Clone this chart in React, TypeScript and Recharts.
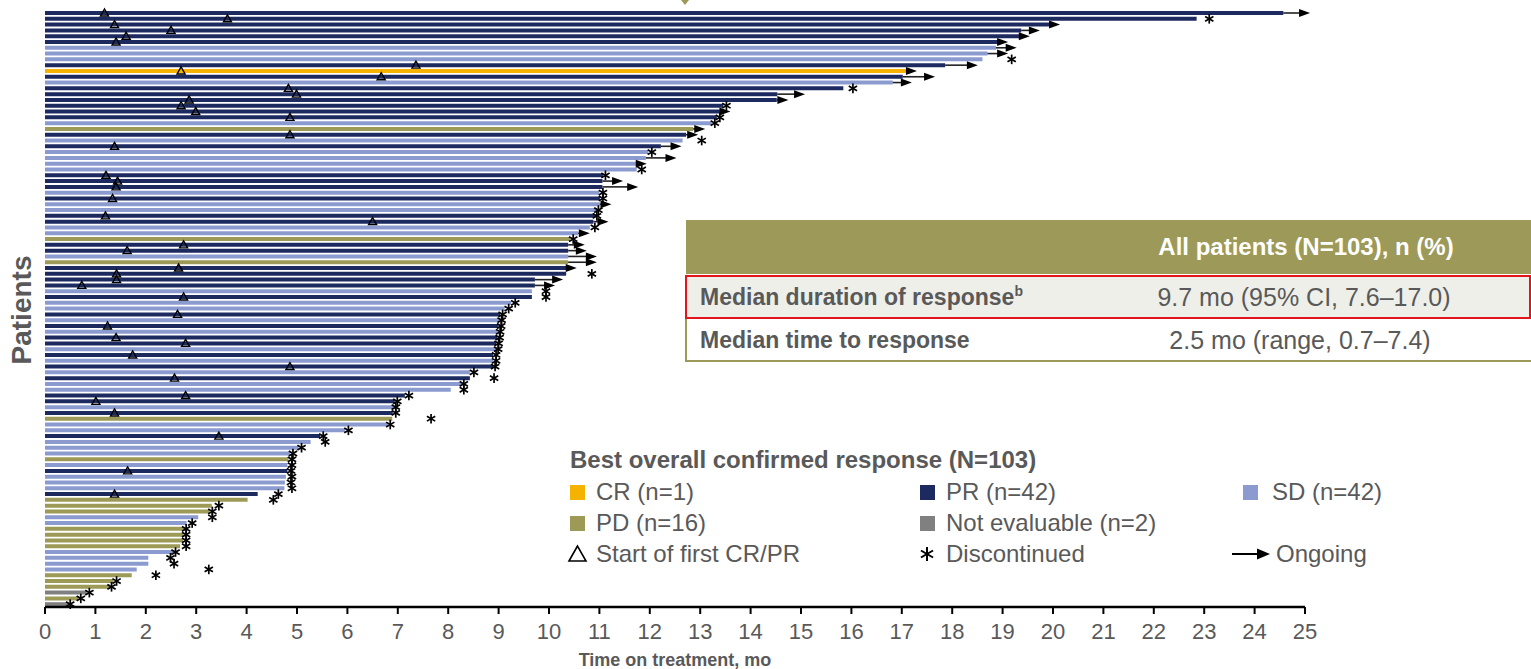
import React from 'react';
import { BarChart, Bar, XAxis, YAxis, Cell, LabelList } from 'recharts';

const FONT = '"Liberation Sans", Arial, Helvetica, sans-serif';
const TEXT_GRAY = '#595959';

// Best overall confirmed response per patient (top to bottom)
const responses: string[] = [
  'PR', 'PR', 'PR', 'PR', 'PR', 'PR', 'SD', 'SD', 'SD', 'PR',
  'CR', 'PR', 'SD', 'PR', 'PR', 'PR', 'PR', 'PR', 'PR', 'SD',
  'PD', 'PR', 'SD', 'PR', 'SD', 'SD', 'SD', 'SD', 'PR', 'PR',
  'PR', 'SD', 'PR', 'SD', 'SD', 'PR', 'PR', 'SD', 'SD', 'PD',
  'PR', 'PR', 'SD', 'PD', 'PR', 'PR', 'PR', 'PR', 'SD', 'PR',
  'SD', 'SD', 'PR', 'SD', 'PR', 'SD', 'PR', 'PR', 'SD', 'PR',
  'SD', 'PR', 'SD', 'PR', 'SD', 'SD', 'PR', 'PR', 'SD', 'PR',
  'PD', 'SD', 'SD', 'PR', 'SD', 'SD', 'SD', 'PD', 'SD', 'PR',
  'SD', 'SD', 'SD', 'PR', 'PD', 'PD', 'PD', 'SD', 'SD', 'PD',
  'PD', 'PD', 'PD', 'SD', 'SD', 'SD', 'SD', 'PD', 'PD', 'PD',
  'NE', 'PD', 'NE',
];

// Time on treatment, months
const durations: number[] = [
  24.57, 22.85, 19.94, 19.37, 19.33, 18.91, 18.87, 18.70, 18.60, 17.86,
  17.08, 17.02, 16.82, 15.84, 14.53, 14.52, 13.46, 13.39, 13.33, 13.23,
  12.86, 12.72, 12.65, 12.22, 11.97, 11.92, 11.77, 11.74, 11.07, 11.06,
  11.06, 11.00, 11.01, 11.01, 10.95, 10.91, 10.88, 10.81, 10.58, 10.42,
  10.38, 10.38, 10.38, 10.38, 10.35, 10.34, 9.72, 9.72, 9.66, 9.66,
  9.25, 9.12, 9.03, 9.02, 9.00, 8.98, 8.97, 8.95, 8.95, 8.89,
  8.89, 8.89, 8.43, 8.43, 8.27, 8.05, 7.14, 6.94, 6.92, 6.90,
  6.89, 6.81, 5.95, 5.46, 5.27, 5.03, 4.86, 4.83, 4.81, 4.81,
  4.78, 4.76, 4.75, 4.22, 4.02, 3.31, 3.27, 3.04, 2.81, 2.76,
  2.75, 2.74, 2.68, 2.55, 2.05, 2.05, 1.82, 1.72, 1.36, 1.29,
  0.83, 0.66, 0.46,
];

// Start of first CR/PR, months
const responseStart: (number | null)[] = [
  1.18, 3.62, 1.38, 2.50, 1.61, 1.41, null, null, null, 7.36,
  2.70, 6.67, null, 4.83, 4.99, 2.86, 2.70, 2.99, 4.86, null,
  null, 4.86, null, 1.38, null, null, null, null, 1.21, 1.44,
  1.41, null, 1.34, null, null, 1.20, 6.50, null, null, null,
  2.75, 1.63, null, null, 2.65, 1.42, 1.42, 0.73, null, 2.75,
  null, null, 2.63, null, 1.24, null, 1.41, 2.79, null, 1.74,
  null, 4.86, null, 2.57, null, null, 2.79, 1.01, null, 1.38,
  null, null, null, 3.45, null, null, null, null, null, 1.64,
  null, null, null, 1.38, null, null, null, null, null, null,
  null, null, null, null, null, null, null, null, null, null,
  null, null, null,
];

// Discontinuation, months
const discontinuedAt: (number | null)[] = [
  null, 23.10, null, null, null, null, null, null, 19.18, null,
  null, null, null, 16.03, null, null, 13.52, null, 13.39, 13.29,
  null, null, 13.03, null, 12.04, null, null, 11.84, 11.12, null,
  null, 11.07, 11.07, null, 10.98, 10.95, null, 10.91, null, 10.48,
  null, null, null, null, null, 10.85, null, null, 9.94, 9.94,
  9.33, 9.20, 9.08, 9.06, 9.05, 9.03, 9.02, 9.00, 8.99, 8.95,
  8.95, 8.93, 8.51, 8.91, 8.31, 8.31, 7.22, 6.99, 6.96, 6.96,
  7.66, 6.85, 6.02, 5.52, 5.56, 5.09, 4.92, 4.90, 4.90, 4.88,
  4.90, 4.88, 4.90, 4.63, 4.53, 3.45, 3.32, 3.32, 2.92, 2.80,
  2.80, 2.80, 2.80, 2.59, 2.49, 2.56, 3.25, 2.20, 1.42, 1.32,
  0.88, 0.71, 0.50,
];

// Ongoing treatment, arrow reaching this month
const ongoingTo: (number | null)[] = [
  25.10, null, 20.14, 19.74, 19.54, 19.11, 19.28, 19.11, null, 18.51,
  17.30, 17.66, 17.20, null, 15.08, 14.75, null, 13.60, null, null,
  13.10, 12.96, null, 12.63, null, 12.53, 11.94, null, null, 11.47,
  11.77, null, null, 11.24, null, null, 11.18, null, 10.81, null,
  10.71, 10.75, 10.95, 10.95, 10.55, null, 10.28, 10.12, null, null,
  null, null, null, null, null, null, null, null, null, null,
  null, null, null, null, null, null, null, null, null, null,
  null, null, null, null, null, null, null, null, null, null,
  null, null, null, null, null, null, null, null, null, null,
  null, null, null, null, null, null, null, null, null, null,
  null, null, null,
];

const xTicks = [0, 1, 2, 3, 4, 5, 6, 7, 8, 9, 10, 11, 12, 13, 14, 15, 16, 17, 18, 19, 20, 21, 22, 23, 24, 25];

const COLORS: Record<string, string> = {
  CR: '#f6b200',
  PR: '#1d2a5f',
  SD: '#8b9bd0',
  PD: '#9c9a56',
  NE: '#808080',
};
const OLIVE = '#9d9958';

const rows = durations.map((d, i) => ({
  id: i,
  duration: d,
  response: responses[i],
  start: responseStart[i],
  disc: discontinuedAt[i],
  ongoing: ongoingTo[i],
}));

const Asterisk = ({ cx, cy, r, w = 1.6 }: { cx: number; cy: number; r: number; w?: number }) => {
  const dx = r * Math.cos(Math.PI / 6);
  const dy = r * Math.sin(Math.PI / 6);
  return (
    <g stroke="#000" strokeWidth={w} strokeLinecap="butt">
      <line x1={cx} y1={cy - r} x2={cx} y2={cy + r} />
      <line x1={cx - dx} y1={cy - dy} x2={cx + dx} y2={cy + dy} />
      <line x1={cx - dx} y1={cy + dy} x2={cx + dx} y2={cy - dy} />
    </g>
  );
};

const renderMarkers = (props: any) => {
  const vb = props.viewBox && props.viewBox.width != null ? props.viewBox : props;
  const { x, y, width, height } = vb;
  const row = rows[Number(props.value)];
  if (!row || width == null || !isFinite(width)) return null;
  const perMonth = width / row.duration;
  const cy = y + height / 2;
  const at = (v: number) => x + v * perMonth;
  const end = x + width;
  return (
    <g key={`m-${row.id}`}>
      {row.start != null && (
        <polygon
          points={`${at(row.start)},${cy - 4} ${at(row.start) - 4},${cy + 3} ${at(row.start) + 4},${cy + 3}`}
          fill="none"
          stroke="#000"
          strokeWidth={1.4}
        />
      )}
      {row.disc != null && <Asterisk cx={at(row.disc)} cy={cy} r={4.8} w={1.7} />}
      {row.ongoing != null && (
        <g>
          {at(row.ongoing) - 10 > end && (
            <line x1={end} y1={cy} x2={at(row.ongoing) - 9} y2={cy} stroke="#222" strokeWidth={1.6} />
          )}
          <polygon
            points={`${at(row.ongoing)},${cy} ${at(row.ongoing) - 11},${cy - 4} ${at(row.ongoing) - 11},${cy + 4}`}
            fill="#000"
          />
        </g>
      )}
    </g>
  );
};

const LegendSwatch = ({ left, top, color, label, textLeft }: any) => (
  <>
    <div style={{ position: 'absolute', left, top: top - 7.5, width: 15, height: 15, background: color }} />
    <div style={{ position: 'absolute', left: textLeft, top: top - 14, height: 28, lineHeight: '28px', fontSize: 24, color: TEXT_GRAY, whiteSpace: 'nowrap' }}>
      {label}
    </div>
  </>
);

export default function App() {
  return (
    <div style={{ position: 'absolute', left: 0, top: 0, width: 1531, height: 669, background: '#fff', fontFamily: FONT, overflow: 'hidden' }}>
      <BarChart
        width={1531}
        height={669}
        data={rows}
        layout="vertical"
        margin={{ top: 10, right: 226, bottom: 32, left: 45 }}
        barSize={4}
      >
        <XAxis
          type="number"
          domain={[0, 25]}
          ticks={xTicks}
          interval={0}
          height={30}
          axisLine={{ stroke: '#000', strokeWidth: 2.5 }}
          tickLine={{ stroke: '#000', strokeWidth: 2 }}
          tickSize={7}
          tickMargin={9}
          tick={{ fill: TEXT_GRAY, fontSize: 22, fontFamily: FONT }}
        />
        <YAxis
          type="category"
          dataKey="id"
          width={0}
          tick={false}
          tickLine={false}
          axisLine={{ stroke: '#000', strokeWidth: 2.5 }}
        />
        <Bar dataKey="duration" isAnimationActive={false}>
          {rows.map((r) => (
            <Cell key={r.id} fill={COLORS[r.response]} />
          ))}
          <LabelList dataKey="id" content={renderMarkers} />
        </Bar>
      </BarChart>

      {/* small olive mark at the top edge */}
      <svg style={{ position: 'absolute', left: 680, top: 0 }} width={10} height={6}>
        <polygon points="1,0 9,0 5,5" fill={OLIVE} />
      </svg>

      {/* axis titles */}
      <div style={{ position: 'absolute', left: 475, top: 649, width: 400, height: 22, lineHeight: '22px', textAlign: 'center', fontSize: 18, fontWeight: 700, color: TEXT_GRAY }}>
        Time on treatment, mo
      </div>
      <div style={{ position: 'absolute', left: 22, top: 310, transform: 'translate(-50%, -50%) rotate(-90deg)', fontSize: 28, fontWeight: 700, color: TEXT_GRAY, whiteSpace: 'nowrap' }}>
        Patients
      </div>

      {/* summary table */}
      <div style={{ position: 'absolute', left: 686, top: 220, width: 845, height: 54, background: OLIVE }} />
      <div style={{ position: 'absolute', left: 1081, top: 220, width: 450, height: 54, display: 'flex', alignItems: 'center', justifyContent: 'center', color: '#fff', fontWeight: 700, fontSize: 24 }}>
        All patients (N=103), n (%)
      </div>
      <div style={{ position: 'absolute', left: 685, top: 275, width: 846, height: 44, background: '#efefea', border: '2px solid #e3141c', boxSizing: 'border-box' }} />
      <div style={{ position: 'absolute', left: 700, top: 275, height: 44, display: 'flex', alignItems: 'center', fontSize: 23, fontWeight: 700, color: TEXT_GRAY, whiteSpace: 'nowrap' }}>
        Median duration of response<sup style={{ fontSize: 14, alignSelf: 'flex-start', marginTop: 8 }}>b</sup>
      </div>
      <div style={{ position: 'absolute', left: 1079, top: 275, width: 450, height: 44, display: 'flex', alignItems: 'center', justifyContent: 'center', fontSize: 25, color: TEXT_GRAY, whiteSpace: 'nowrap' }}>
        9.7 mo (95% CI, 7.6–17.0)
      </div>
      <div style={{ position: 'absolute', left: 685, top: 319, width: 846, height: 43, borderLeft: `2px solid ${OLIVE}`, borderBottom: `2px solid ${OLIVE}`, boxSizing: 'border-box' }} />
      <div style={{ position: 'absolute', left: 700, top: 319, height: 42, display: 'flex', alignItems: 'center', fontSize: 23, fontWeight: 700, color: TEXT_GRAY, whiteSpace: 'nowrap' }}>
        Median time to response
      </div>
      <div style={{ position: 'absolute', left: 1075, top: 319, width: 450, height: 42, display: 'flex', alignItems: 'center', justifyContent: 'center', fontSize: 25, color: TEXT_GRAY, whiteSpace: 'nowrap' }}>
        2.5 mo (range, 0.7–7.4)
      </div>

      {/* legend */}
      <div style={{ position: 'absolute', left: 570, top: 446, height: 28, lineHeight: '28px', fontSize: 24, fontWeight: 700, color: TEXT_GRAY, whiteSpace: 'nowrap' }}>
        Best overall confirmed response (N=103)
      </div>
      <LegendSwatch left={570} top={492} color={COLORS.CR} label="CR (n=1)" textLeft={596} />
      <LegendSwatch left={920} top={492} color={COLORS.PR} label="PR (n=42)" textLeft={946} />
      <LegendSwatch left={1243} top={492} color={COLORS.SD} label="SD (n=42)" textLeft={1272} />
      <LegendSwatch left={570} top={523} color={COLORS.PD} label="PD (n=16)" textLeft={596} />
      <LegendSwatch left={920} top={523} color={COLORS.NE} label="Not evaluable (n=2)" textLeft={946} />
      <svg style={{ position: 'absolute', left: 566, top: 544 }} width={24} height={20}>
        <polygon points="11.5,2 3,17 20,17" fill="none" stroke="#000" strokeWidth={1.6} />
      </svg>
      <div style={{ position: 'absolute', left: 596, top: 540, height: 28, lineHeight: '28px', fontSize: 24, color: TEXT_GRAY, whiteSpace: 'nowrap' }}>
        Start of first CR/PR
      </div>
      <svg style={{ position: 'absolute', left: 917, top: 544 }} width={20} height={20}>
        <Asterisk cx={10} cy={10} r={7} w={2} />
      </svg>
      <div style={{ position: 'absolute', left: 946, top: 540, height: 28, lineHeight: '28px', fontSize: 24, color: TEXT_GRAY, whiteSpace: 'nowrap' }}>
        Discontinued
      </div>
      <svg style={{ position: 'absolute', left: 1230, top: 544 }} width={42} height={20}>
        <line x1={2} y1={10} x2={30} y2={10} stroke="#000" strokeWidth={2} />
        <polygon points="40,10 27,4.5 27,15.5" fill="#000" />
      </svg>
      <div style={{ position: 'absolute', left: 1276, top: 540, height: 28, lineHeight: '28px', fontSize: 24, color: TEXT_GRAY, whiteSpace: 'nowrap' }}>
        Ongoing
      </div>
    </div>
  );
}
